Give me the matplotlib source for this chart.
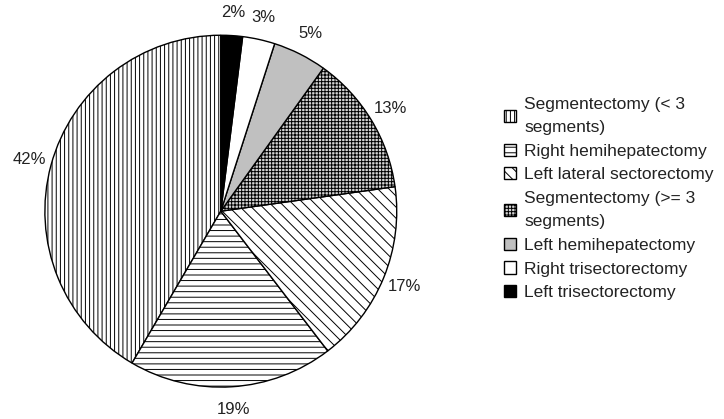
import matplotlib
matplotlib.use("Agg")
import matplotlib.pyplot as plt

plt.rcParams['font.family'] = ['Liberation Sans', 'DejaVu Sans']
plt.rcParams['hatch.linewidth'] = 0.7

categories = ["Segmentectomy (< 3\nsegments)", "Right hemihepatectomy", "Left lateral sectorectomy",
              "Segmentectomy (>= 3\nsegments)", "Left hemihepatectomy", "Right trisectorectomy",
              "Left trisectorectomy"]
values = [42, 19, 17, 13, 5, 3, 2]
pct_labels = ["42%", "19%", "17%", "13%", "5%", "3%", "2%"]

facecolors = ["white", "white", "white", "#d4d4d4", "#c0c0c0", "white", "black"]
hatches = ["||||", "---", "\\\\\\", "+++++", "", "", ""]

fig = plt.figure(figsize=(7.24, 4.19), dpi=100)
ax = fig.add_axes([0.062, 0.076, 0.486, 0.84])
wedges, texts = ax.pie(values, labels=pct_labels, startangle=90, counterclock=True,
                       labeldistance=1.13,
                       colors=facecolors,
                       wedgeprops=dict(edgecolor="black", linewidth=1.0),
                       textprops=dict(ha="center", va="center", fontsize=12, color="#222222"))
for w, h in zip(wedges, hatches):
    w.set_hatch(h)
ax.set_aspect("equal")
ax.set_xlim(-1.0, 1.0)
ax.set_ylim(-1.0, 1.0)

leg = ax.legend(wedges, categories, loc="upper left", bbox_to_anchor=(0.686, 0.785),
                bbox_transform=fig.transFigure, frameon=False, fontsize=12.5,
                handlelength=0.7, handleheight=0.7, handletextpad=0.5,
                labelspacing=0.5, borderaxespad=0)
for t in leg.get_texts():
    t.set_linespacing(1.65)
    t.set_color("#222222")
fig.savefig("out.png", dpi=100)
